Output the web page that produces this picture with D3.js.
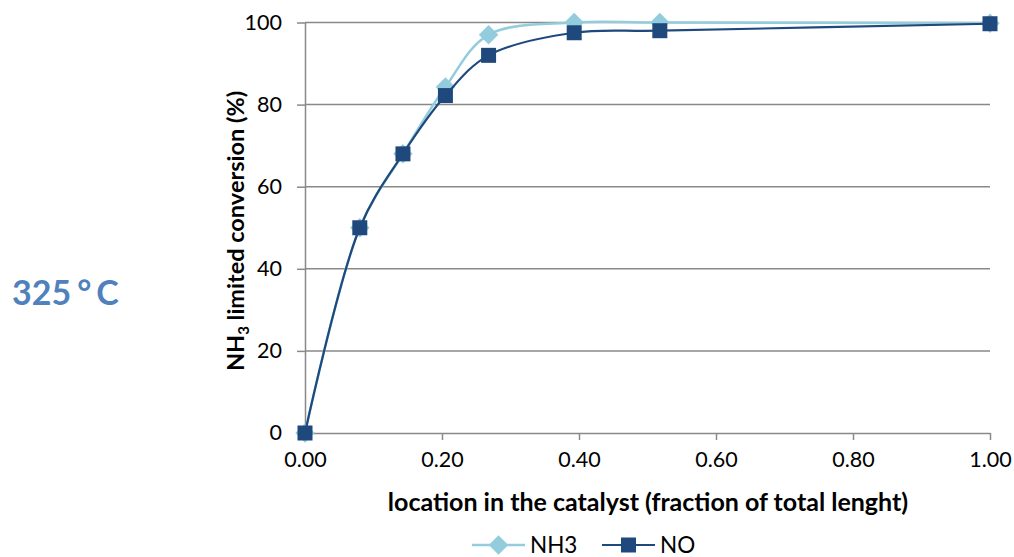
<!DOCTYPE html>
<html>
<head>
<meta charset="utf-8">
<script src="https://cdn.jsdelivr.net/npm/d3@7"></script>
<style>
  html, body { margin: 0; padding: 0; background: #fff; }
  svg { display: block; font-family: Lato, "Open Sans", sans-serif; }
</style>
</head>
<body>
<svg id="chart" width="1014" height="557"></svg>
<script>
// Location along the catalyst (fraction of total length)
const locations = [0, 0.08, 0.143, 0.205, 0.268, 0.393, 0.518, 1.0];
// NH3-limited conversion (%) for each species
const nh3Values = [0, 50, 68, 84.3, 97, 100, 100, 99.8];
const noValues  = [0, 50, 68, 82.2, 92, 97.5, 98, 99.7];
const seriesNames = ["NH3", "NO"];
const xTicks = [0, 0.2, 0.4, 0.6, 0.8, 1.0];
const yTicks = [0, 20, 40, 60, 80, 100];

const colors = { NH3: "#93CDDD", NO: "#1F497D" };
const gridColor = "#898989";

const svg = d3.select("#chart");

const x = d3.scaleLinear().domain([0, 1]).range([305, 990]);
const y = d3.scaleLinear().domain([0, 100]).range([433, 22.5]);

// horizontal gridlines
svg.append("g")
  .selectAll("line")
  .data(yTicks.filter(d => d > 0))
  .join("line")
  .attr("x1", x(0)).attr("x2", x(1))
  .attr("y1", d => y(d)).attr("y2", d => y(d))
  .attr("stroke", gridColor).attr("stroke-width", 1.5);

// x axis
const xAxis = svg.append("g")
  .attr("transform", `translate(0,${y(0)})`)
  .call(d3.axisBottom(x).tickValues(xTicks).tickFormat(d3.format(".2f"))
    .tickSizeInner(7).tickSizeOuter(0).tickPadding(12));
// y axis
const yAxis = svg.append("g")
  .attr("transform", `translate(${x(0)},0)`)
  .call(d3.axisLeft(y).tickValues(yTicks).tickSizeInner(8).tickSizeOuter(0).tickPadding(15));

[xAxis, yAxis].forEach(g => {
  g.select(".domain").attr("stroke", gridColor).attr("stroke-width", 1.5);
  g.selectAll(".tick line").attr("stroke", gridColor).attr("stroke-width", 1.5);
  g.selectAll(".tick text")
    .attr("fill", "#000")
    .style("font-family", "Lato, 'Open Sans', sans-serif")
    .style("font-size", "21.5px");
});

// series
const series = [
  { name: "NH3", values: nh3Values, shape: "diamond" },
  { name: "NO",  values: noValues,  shape: "square" }
];

const line = d3.line()
  .x(d => x(d[0]))
  .y(d => y(d[1]))
  .curve(d3.curveCatmullRom.alpha(0.5));

const diamond = d3.symbol().type(d3.symbolSquare).size(190);
const square = d3.symbol().type(d3.symbolSquare).size(225);

function drawMarker(g, shape, color) {
  if (shape === "diamond") {
    g.append("path").attr("d", diamond()).attr("transform", "rotate(45)").attr("fill", color);
  } else {
    g.append("path").attr("d", square()).attr("fill", color);
  }
}

series.forEach(s => {
  const pts = locations.map((l, i) => [l, s.values[i]]);
  const g = svg.append("g");
  g.append("path")
    .attr("d", line(pts))
    .attr("fill", "none")
    .attr("stroke", colors[s.name])
    .attr("stroke-width", s.name === "NH3" ? 2.5 : 2.2);
  pts.forEach(p => {
    const m = g.append("g").attr("transform", `translate(${x(p[0])},${y(p[1])})`);
    drawMarker(m, s.shape, colors[s.name]);
  });
});

// axis titles
svg.append("text")
  .attr("x", 648).attr("y", 511)
  .attr("text-anchor", "middle")
  .style("font-weight", 700).style("font-size", "25px")
  .text("location in the catalyst (fraction of total lenght)");

const yTitle = svg.append("text")
  .attr("transform", "translate(244,231) rotate(-90)")
  .attr("text-anchor", "middle")
  .style("font-weight", 700).style("font-size", "23.5px");
yTitle.append("tspan").text("NH");
yTitle.append("tspan").attr("dy", 5).style("font-size", "15px").text("3");
yTitle.append("tspan").attr("dy", -5).text(" limited conversion (%)");

// temperature label
const temp = svg.append("text")
  .attr("x", 12).attr("y", 305)
  .attr("fill", "#4F81BD")
  .style("font-weight", 700).style("font-size", "34px");
temp.append("tspan").text("325");
temp.append("tspan").attr("dx", 6).text("°");
temp.append("tspan").attr("dx", 5).text("C");

// legend
const legendItems = [
  { name: "NH3", shape: "diamond", x0: 472 },
  { name: "NO",  shape: "square",  x0: 602 }
];
const leg = svg.append("g");
legendItems.forEach(it => {
  const g = leg.append("g").attr("transform", `translate(${it.x0},545)`);
  g.append("line").attr("x1", 0).attr("x2", 53).attr("y1", 0).attr("y2", 0)
    .attr("stroke", colors[it.name]).attr("stroke-width", it.name === "NH3" ? 2.5 : 2.2);
  const m = g.append("g").attr("transform", "translate(26.5,0)");
  drawMarker(m, it.shape, colors[it.name]);
  g.append("text").attr("x", 58).attr("y", 8)
    .style("font-size", "22.5px").attr("fill", "#000").text(it.name);
});
</script>
</body>
</html>
